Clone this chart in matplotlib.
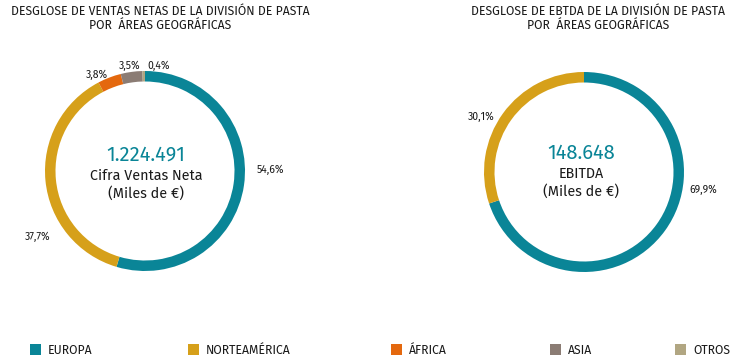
import matplotlib
matplotlib.use("Agg")
import matplotlib.pyplot as plt
from matplotlib.patches import Rectangle

plt.rcParams['font.family'] = ['Fira Sans', 'PT Sans', 'DejaVu Sans']

categories = ["EUROPA", "NORTEAMÉRICA", "ÁFRICA", "ASIA", "OTROS"]
colors = ["#0a8597", "#d6a01a", "#e4680e", "#8b7c74", "#b1a682"]

ventas_pct = [54.6, 37.7, 3.8, 3.5, 0.4]
ventas_labels = ["54,6%", "37,7%", "3,8%", "3,5%", "0,4%"]
ebitda_pct = [69.9, 30.1]
ebitda_labels = ["69,9%", "30,1%"]

titles = ["DESGLOSE DE VENTAS NETAS DE LA DIVISIÓN DE PASTA\nPOR  ÁREAS GEOGRÁFICAS",
          "DESGLOSE DE EBTDA DE LA DIVISIÓN DE PASTA\nPOR  ÁREAS GEOGRÁFICAS"]
center_values = ["1.224.491", "148.648"]
center_texts = ["Cifra Ventas Neta\n(Miles de €)", "EBITDA\n(Miles de €)"]

W, H = 734, 358
fig = plt.figure(figsize=(W/100, H/100), dpi=100)
ax = fig.add_axes([0, 0, 1, 1])

def fy(y):
    return H - y

TXT = '#1a1a1a'
TEAL = colors[0]

# left donut
ax.pie(ventas_pct, colors=colors, startangle=90, counterclock=False,
       center=(145, fy(171)), radius=100, frame=True,
       wedgeprops=dict(width=10.5, linewidth=0))
lpos = [(270, 170), (38, 237), (97, 75), (130, 66), (159, 66)]
for lab, (x, y) in zip(ventas_labels, lpos):
    ax.text(x, fy(y), lab, fontsize=7.5, ha='center', va='center', color=TXT)

# right donut
ax.pie(ebitda_pct, colors=colors[:2], startangle=90, counterclock=False,
       center=(584, fy(172)), radius=100, frame=True,
       wedgeprops=dict(width=10.5, linewidth=0))
rpos = [(703, 190), (481, 117)]
for lab, (x, y) in zip(ebitda_labels, rpos):
    ax.text(x, fy(y), lab, fontsize=7.5, ha='center', va='center', color=TXT)

ax.set_xlim(0, W)
ax.set_ylim(0, H)
ax.set_aspect('equal')
ax.axis('off')

# titles
ax.text(160, fy(18), titles[0], fontsize=8.8, ha='center', va='center', color=TXT, linespacing=1.15)
ax.text(598, fy(18), titles[1], fontsize=8.8, ha='center', va='center', color=TXT, linespacing=1.15)

# center text
ax.text(146, fy(155), center_values[0], fontsize=14.5, ha='center', va='center', color=TEAL)
ax.text(146, fy(185), center_texts[0], fontsize=10.3, ha='center', va='center', color=TXT, linespacing=1.25)
ax.text(581, fy(153), center_values[1], fontsize=14.5, ha='center', va='center', color=TEAL)
ax.text(581, fy(183), center_texts[1], fontsize=10.3, ha='center', va='center', color=TXT, linespacing=1.25)

# legend
leg_x = [30, 188, 391, 550, 675]
for x, c, name in zip(leg_x, colors, categories):
    ax.add_patch(Rectangle((x, fy(355)), 11, 11, color=c, lw=0))
    ax.text(x + 18, fy(350), name, fontsize=8.8, ha='left', va='center', color=TXT)

fig.savefig("out.png", dpi=100)
